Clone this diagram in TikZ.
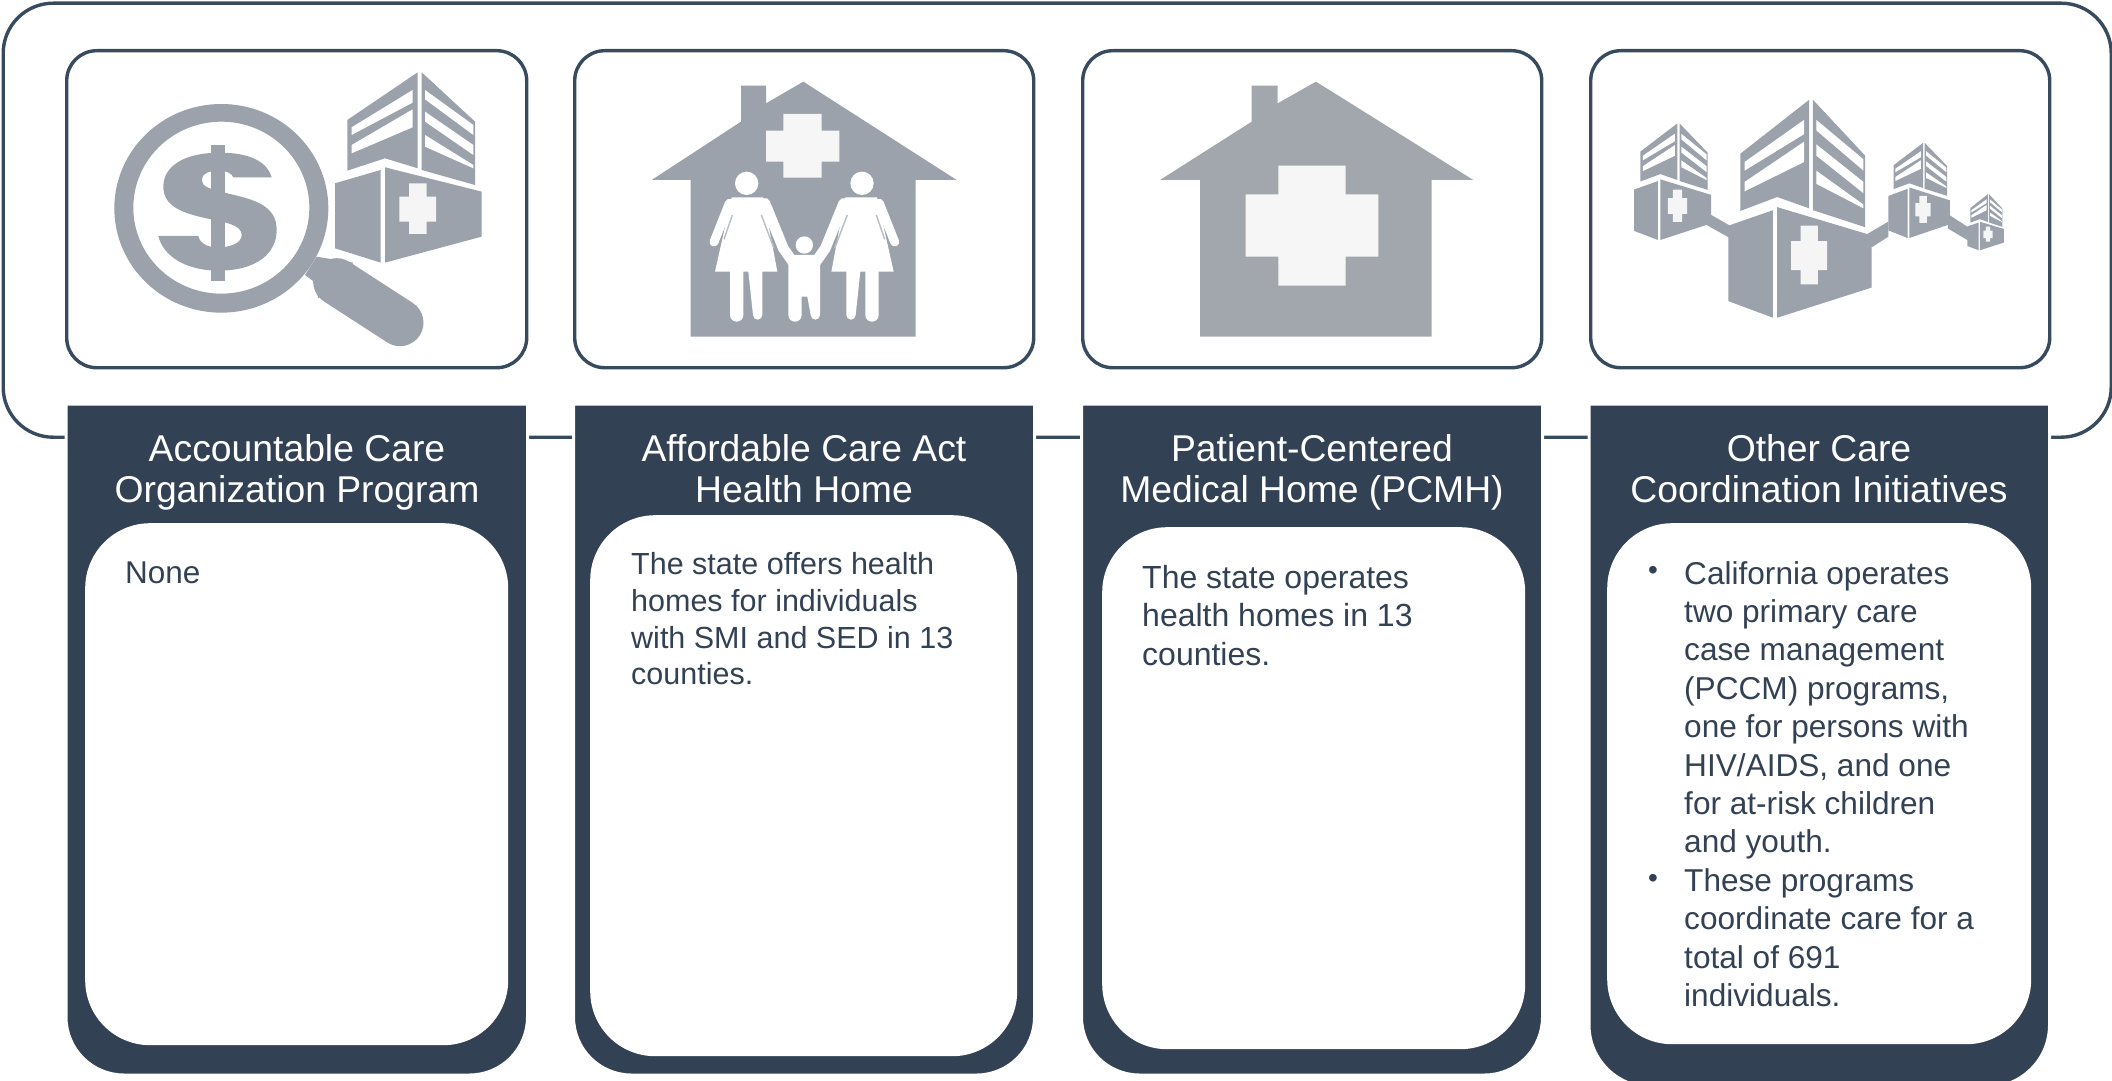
\documentclass[tikz,border=0pt]{standalone}
\usepackage{fontspec}
\setmainfont{Liberation Sans}
\definecolor{navy}{HTML}{334155}
\definecolor{linenavy}{HTML}{384A5E}
\definecolor{icongray}{HTML}{9BA2AB}
\definecolor{iconlight}{HTML}{A2A7AE}
\definecolor{offwhite}{HTML}{F6F6F6}
\tikzset{
  x=1pt,y=-1pt,
  outerframe/.style={draw=linenavy,line width=3.4pt,fill=white,rounded corners=50pt},
  iconbox/.style={draw=linenavy,line width=3.4pt,fill=white,rounded corners=30pt,minimum width=459pt,minimum height=317pt,anchor=north west,inner sep=0pt},
  panel/.style={fill=navy,draw=white,line width=3pt},
  innerbox/.style={fill=white,rounded corners=65pt,anchor=north west,inner sep=0pt},
  heading/.style={text=white,align=center,font=\fontsize{37.3}{40.4}\selectfont,anchor=center},
  bodytext/.style={text=navy,align=left,anchor=north west,inner sep=0pt},
  bulletmark/.style={text=navy,font=\fontsize{28}{38.4}\selectfont,inner sep=0pt,anchor=center}
}
% hospital in zoom units: #1,#2 position; #3 x scale; #4 y scale of block; #5 y scale of tower
\newcommand{\hospital}[5]{%
\begin{scope}[shift={(#1,#2)},xscale=#3/3,yscale=#4/3,shift={(-825,-385)}]
 \fill[icongray] (825,430)--(962,390)--(962,668)--(825,625)--cycle;
 \fill[icongray] (975,382)--(1265,455)--(1265,590)--(975,668)--cycle;
 \fill[white!96!black] (1047,430)--(1100,430)--(1100,470)--(1128,470)--(1128,545)--(1100,545)--(1100,582)--(1047,582)--(1047,545)--(1018,545)--(1018,470)--(1047,470)--cycle;
\end{scope}
\begin{scope}[shift={(#1,#2)},xscale=#3/3,yscale=#5/3,shift={(-825,-385)}]
 \fill[icongray] (862,240)--(1073,97)--(1073,385)--(975,355)--(862,392)--cycle;
 \fill[icongray] (1085,97)--(1245,245)--(1245,435)--(1085,390)--cycle;
 \fill[white] (875,262)--(1058,150)--(1058,188)--(875,285)--cycle;
 \fill[white] (875,315)--(1058,208)--(1058,262)--(875,340)--cycle;
 \fill[white] (1095,150)--(1240,255)--(1240,285)--(1095,178)--cycle;
 \fill[white] (1095,215)--(1240,315)--(1240,345)--(1095,245)--cycle;
 \fill[white] (1095,285)--(1240,375)--(1240,385)--(1095,320)--cycle;
\end{scope}}
% one woman, in zoom units of the second icon
\newcommand{\woman}{%
 \fill[white] (530,430) circle[radius=35];
 \fill[white] (485,472)--(580,472)--(622,695)--(577,695)--(577,825) arc[start angle=0,end angle=180,radius=14]--(535,695)--(520,695)--(520,825) arc[start angle=0,end angle=180,radius=20]--(480,695)--(435,695)--cycle;
 \draw[white,line width=9pt,line cap=round] (478,490)--(432,606);
 \draw[white,line width=10.5pt,line cap=round] (585,490)--(640,625)--(668,665);
 \draw[icongray!70!white,line width=1.4pt] (487,525)--(462,598);
 \draw[icongray!70!white,line width=1.4pt] (574,525)--(612,625);
}
\begin{document}
\begin{tikzpicture}
\useasboundingbox (0,0) rectangle (2112,1081);
\fill[white] (0,0) rectangle (2112,1081);
\begin{scope}
\clip (0,0) rectangle (2112,1081);
\node[outerframe,minimum width=2108pt,minimum height=434pt,anchor=north west,inner sep=0pt] (frame) at (1.5,1.5) {};

% icon frames
\node[iconbox,minimum width=460pt] (iconA) at (65,49) {};
\node[iconbox] (iconB) at (573,49) {};
\node[iconbox] (iconC) at (1081,49) {};
\node[iconbox] (iconD) at (1589,49) {};

% panels: square on top, rounded below
\draw[panel] (66,404)--(527.5,404)--(527.5,1017) arc[start angle=0,end angle=90,radius=58]--(124,1075) arc[start angle=90,end angle=180,radius=58]--cycle;
\draw[panel] (573.5,404)--(1034.5,404)--(1034.5,1017) arc[start angle=0,end angle=90,radius=58]--(631.5,1075) arc[start angle=90,end angle=180,radius=58]--cycle;
\draw[panel] (1081.5,404)--(1542.5,404)--(1542.5,1017) arc[start angle=0,end angle=90,radius=58]--(1139.5,1075) arc[start angle=90,end angle=180,radius=58]--cycle;
\draw[panel] (1589,404)--(2049.5,404)--(2049.5,1025) arc[start angle=0,end angle=90,radius=62]--(1651,1087) arc[start angle=90,end angle=180,radius=62]--cycle;

% inner white boxes
\node[innerbox,minimum width=423pt,minimum height=522pt] (innerA) at (85,523) {};
\node[innerbox,minimum width=427pt,minimum height=541pt] (innerB) at (590,515) {};
\node[innerbox,minimum width=423pt,minimum height=522pt] (innerC) at (1102,527) {};
\node[innerbox,minimum width=424pt,minimum height=521pt] (innerD) at (1607,523) {};

% headings
\node[heading] (headA) at (297,472.5) {Accountable Care\\Organization Program};
\node[heading] (headB) at (804,468.5) {Affordable Care Act\\Health Home};
\node[heading] (headC) at (1312,472.5) {Patient-Centered\\Medical Home (PCMH)};
\node[heading] (headD) at (1819,468.5) {Other Care\\Coordination Initiatives};

% body text
\node[bodytext,font=\fontsize{31.5}{36.7}\selectfont] (bodyA) at (125,562) {None};
\node[bodytext,font=\fontsize{30.5}{36.7}\selectfont] (bodyB) at (631,552.5) {The state offers health\\homes for individuals\\with SMI and SED in 13\\counties.};
\node[bodytext,font=\fontsize{32}{38.4}\selectfont] (bodyC) at (1142,565) {The state operates\\health homes in 13\\counties.};
\node[bodytext,font=\fontsize{31.6}{38.4}\selectfont] (bodyD) at (1684,561) {California operates\\two primary care\\case management\\(PCCM) programs,\\one for persons with\\HIV/AIDS, and one\\for at-risk children\\and youth.\\These programs\\coordinate care for a\\total of 691\\individuals.};
\node[bulletmark] (bulA) at (1653,573) {•};
\node[bulletmark] (bulB) at (1653,881) {•};

% icon A : magnifier with dollar sign
\begin{scope}[shift={(60,40)},xscale=1/3,yscale=1/3]
 \fill[icongray,even odd rule] (484,505) ellipse[x radius=321,y radius=313] (484,503) ellipse[x radius=264,y radius=258];
 \fill[icongray] (770,650)--(735,705)--(762,725)--(775,775)--(880,668)--(830,660)--cycle;
 \draw[icongray,line width=47pt,line cap=round] (830,725)--(1020,848);
 \fill[icongray] (452,315) rectangle (495,722);
 \fill[icongray] (635,412) .. controls (620,360) and (560,338) .. (480,338)
   .. controls (370,338) and (310,380) .. (310,440)
   .. controls (310,500) and (370,520) .. (440,535)
   .. controls (500,548) and (545,555) .. (545,585)
   .. controls (545,610) and (510,622) .. (475,622)
   .. controls (440,622) and (420,610) .. (415,588)
   -- (295,588)
   .. controls (310,650) and (380,692) .. (475,692)
   .. controls (590,692) and (650,640) .. (650,570)
   .. controls (650,500) and (590,480) .. (510,462)
   .. controls (450,448) and (425,440) .. (425,420)
   .. controls (425,400) and (450,392) .. (475,392)
   .. controls (500,392) and (515,400) .. (520,412) -- cycle;
\end{scope}
\hospital{335}{168.3}{1}{1}{1}

% icon B : house with family
\begin{scope}[shift={(570,40)},xscale=1/3,yscale=1/3]
 \fill[icongray] (700,125)--(1160,420)--(1037,420)--(1037,890)--(362,890)--(362,420)--(245,420)--(513,245)--(513,137)--(588,137)--(588,190)--cycle;
 \fill[offwhite] (640,222)--(755,222)--(755,272)--(808,272)--(808,365)--(755,365)--(755,413)--(640,413)--(640,365)--(588,365)--(588,272)--(640,272)--cycle;
 \woman
 \begin{scope}[xshift=1406,xscale=-1]\woman\end{scope}
 \fill[white] (703,615) circle[radius=26];
 \fill[white] (655,645)--(750,645)--(750,695)--(750,825) arc[start angle=0,end angle=180,radius=14]--(712,770)--(695,770)--(695,825) arc[start angle=0,end angle=180,radius=20]--(655,695)--cycle;
\end{scope}

% icon C : house with cross
\begin{scope}[shift={(1080,40)},xscale=1/3,yscale=1/3]
 \fill[iconlight] (708,125)--(1180,420)--(1055,420)--(1055,890)--(360,890)--(360,420)--(240,420)--(515,245)--(515,137)--(593,137)--(593,190)--cycle;
 \fill[offwhite] (595,377)--(797,377)--(797,463)--(895,463)--(895,650)--(797,650)--(797,737)--(595,737)--(595,650)--(497,650)--(497,463)--(595,463)--cycle;
\end{scope}

% icon D : linked hospitals
\begin{scope}[shift={(1590,40)},xscale=1/3,yscale=1/3]
 \fill[icongray] (355,520)--(425,560)--(430,600)--(350,555)--cycle;
 \fill[icongray] (830,583)--(895,545)--(895,590)--(845,622)--cycle;
 \fill[icongray] (1078,525)--(1135,562)--(1135,602)--(1073,565)--cycle;
\end{scope}
\hospital{1728.3}{208.3}{0.977}{1.16}{1.13}
\hospital{1634}{180}{0.525}{0.636}{0.59}
\hospital{1888.3}{188}{0.42}{0.53}{0.47}
\hospital{1967.3}{222}{0.25}{0.3}{0.29}
\end{scope}
\end{tikzpicture}
\end{document}
